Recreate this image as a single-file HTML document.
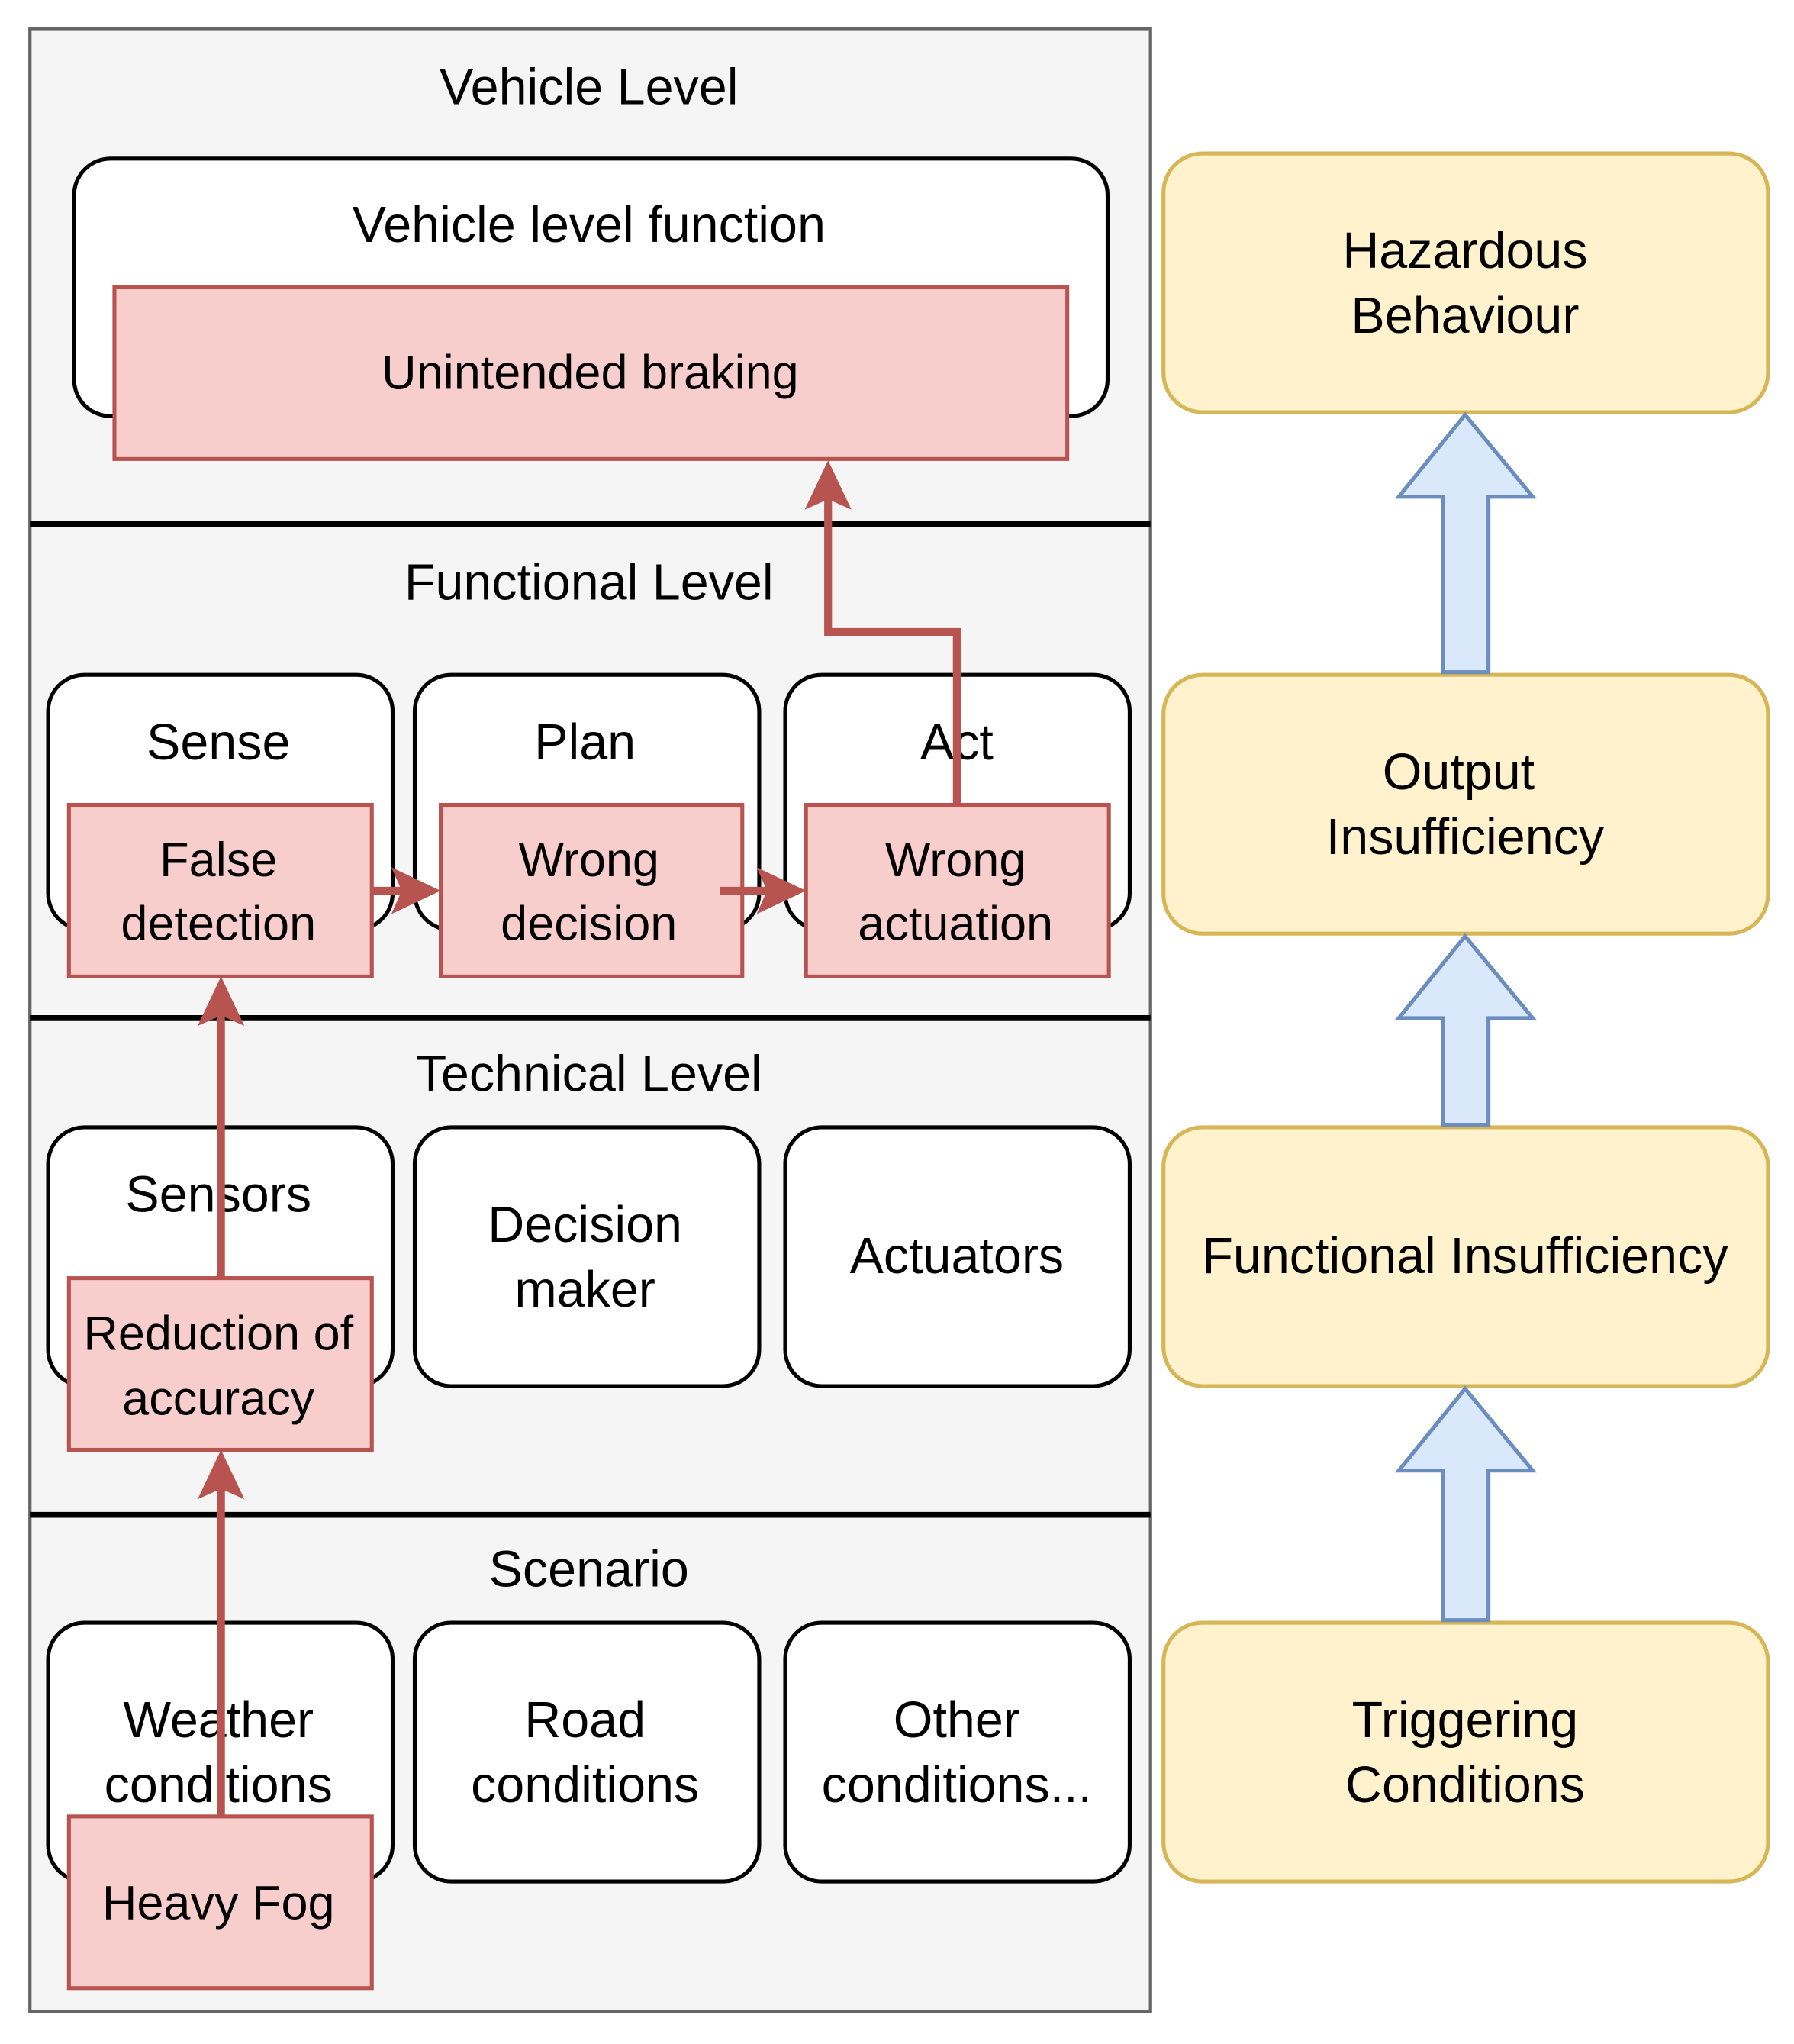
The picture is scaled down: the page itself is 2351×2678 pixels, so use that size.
<!DOCTYPE html>
<html><head><style>html,body{margin:0;padding:0;background:#fff}svg{display:block}</style></head>
<body>
<svg width="2351" height="2678" viewBox="0 0 1380 1572" xmlns="http://www.w3.org/2000/svg" font-family="Liberation Sans, Arial, sans-serif" text-anchor="middle" fill="#000">
<rect width="1380" height="1572" fill="#fff"/>
<rect x="23" y="22" width="862" height="1525" fill="#f5f5f5" stroke="#666" stroke-width="2.5"/>
<g stroke="#000" stroke-width="4.5"><line x1="23" y1="403" x2="885" y2="403"/><line x1="23" y1="783" x2="885" y2="783"/><line x1="23" y1="1165" x2="885" y2="1165"/></g>
<g font-size="39">
<text x="453" y="80">Vehicle Level</text>
<text x="453" y="461">Functional Level</text>
<text x="453" y="839">Technical Level</text>
<text x="453" y="1220">Scenario</text>
</g>
<g fill="#fff" stroke="#000" stroke-width="3">
<rect x="57" y="122" width="795" height="198" rx="28"/>
<rect x="37" y="519" width="265" height="196" rx="28"/>
<rect x="319" y="519" width="265" height="196" rx="28"/>
<rect x="604" y="519" width="265" height="196" rx="28"/>
<rect x="37" y="867" width="265" height="199" rx="28"/>
<rect x="319" y="867" width="265" height="199" rx="28"/>
<rect x="604" y="867" width="265" height="199" rx="28"/>
<rect x="37" y="1248" width="265" height="199" rx="28"/>
<rect x="319" y="1248" width="265" height="199" rx="28"/>
<rect x="604" y="1248" width="265" height="199" rx="28"/>
</g>
<g font-size="39">
<text x="453" y="186">Vehicle level function</text>
<text x="168" y="584">Sense</text>
<text x="450" y="584">Plan</text>
<text x="736" y="584">Act</text>
<text x="168" y="932">Sensors</text>
<text x="450" y="955">Decision</text><text x="450" y="1005">maker</text>
<text x="736" y="979">Actuators</text>
<text x="168" y="1336">Weather</text><text x="168" y="1386">conditions</text>
<text x="450" y="1336">Road</text><text x="450" y="1386">conditions</text>
<text x="736" y="1336">Other</text><text x="736" y="1386">conditions...</text>
</g>
<g fill="#f8cecc" stroke="#b85450" stroke-width="3">
<rect x="88" y="221" width="733" height="132"/>
<rect x="53" y="619" width="233" height="132"/>
<rect x="339" y="619" width="232" height="132"/>
<rect x="620" y="619" width="233" height="132"/>
<rect x="53" y="983" width="233" height="132"/>
<rect x="53" y="1397" width="233" height="132"/>
</g>
<g fill="none" stroke="#b85450" stroke-width="6">
<polyline points="736,619 736,486 637,486 637,380"/>
<line x1="286" y1="685" x2="320" y2="685"/>
<line x1="554" y1="685" x2="600" y2="685"/>
<line x1="170" y1="983" x2="170" y2="775"/>
<line x1="170" y1="1397" x2="170" y2="1140"/>
</g>
<g fill="#b85450">
<polygon points="637,354 619,392 637,384 655,392"/>
<polygon points="339,685 301,667 309,685 301,703"/>
<polygon points="620,685 582,667 590,685 582,703"/>
<polygon points="170,751 152,789 170,781 188,789"/>
<polygon points="170,1115 152,1153 170,1145 188,1153"/>
</g>
<g font-size="37">
<text x="454" y="299">Unintended braking</text>
<text x="168" y="674">False</text><text x="168" y="723">detection</text>
<text x="453" y="674">Wrong</text><text x="453" y="723">decision</text>
<text x="735" y="674">Wrong</text><text x="735" y="723">actuation</text>
<text x="168" y="1038">Reduction of</text><text x="168" y="1088">accuracy</text>
<text x="168" y="1476">Heavy Fog</text>
</g>
<g fill="#fff2cc" stroke="#d6b656" stroke-width="3">
<rect x="895" y="118" width="465" height="199" rx="30"/>
<rect x="895" y="519" width="465" height="199" rx="30"/>
<rect x="895" y="867" width="465" height="199" rx="30"/>
<rect x="895" y="1248" width="465" height="199" rx="30"/>
</g>
<g fill="#dae8fc" stroke="#6c8ebf" stroke-width="3">
<polygon points="1127,319 1179,382 1145,382 1145,517 1110,517 1110,382 1076,382"/>
<polygon points="1127,720 1179,783 1145,783 1145,865 1110,865 1110,783 1076,783"/>
<polygon points="1127,1068 1179,1131 1145,1131 1145,1246 1110,1246 1110,1131 1076,1131"/>
</g>
<g font-size="39">
<text x="1127" y="206">Hazardous</text><text x="1127" y="256">Behaviour</text>
<text x="1122" y="607">Output</text><text x="1127" y="657">Insufficiency</text>
<text x="1127" y="979">Functional Insufficiency</text>
<text x="1127" y="1336">Triggering</text><text x="1127" y="1386">Conditions</text>
</g>
</svg>
</body></html>
